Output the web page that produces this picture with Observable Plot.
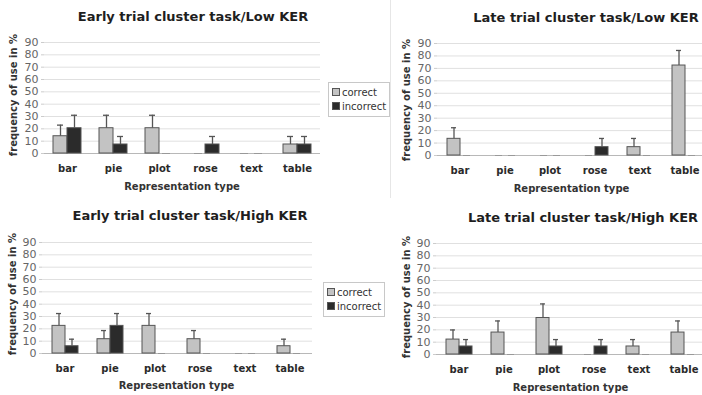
<!DOCTYPE html>
<html>
<head>
<meta charset="utf-8">
<script src="https://cdn.jsdelivr.net/npm/d3@7"></script>
<script src="https://cdn.jsdelivr.net/npm/@observablehq/plot@0.6"></script>
<style>
  html, body { margin: 0; padding: 0; background: #fff; }
  body { width: 702px; height: 395px; position: relative; overflow: hidden; font-family: "DejaVu Sans", sans-serif; }
  .abs { position: absolute; white-space: nowrap; }
  .title { font-weight: bold; font-size: 13px; color: #1e1e1e; transform: translate(-50%, -50%); }
  .xtitle { font-weight: bold; font-size: 10px; color: #333; transform: translate(-50%, -50%); }
  .ytitle { font-weight: bold; font-size: 10px; color: #333; transform: translate(-50%, -50%) rotate(-90deg); }
  .legend { border: 1px solid #c8c8c8; font-size: 10px; color: #333; padding: 3px 3px 2px 3px; line-height: 14px; background: #fff; }
  .sw { display: inline-block; width: 6px; height: 6px; border: 1px solid #555; margin-right: 2px; vertical-align: 0px; }
  .sep { position: absolute; width: 1px; background: #e6e6e6; }
</style>
</head>
<body>
<script>
const categories = ["bar", "pie", "plot", "rose", "text", "table"];
const series = ["correct", "incorrect"];
const yTicks = [0, 10, 20, 30, 40, 50, 60, 70, 80, 90];
const titles = [
  "Early trial cluster task/Low KER",
  "Late trial cluster task/Low KER",
  "Early trial cluster task/High KER",
  "Late trial cluster task/High KER"
];
const xTitle = "Representation type";
const yTitle = "frequency of use in %";

// Early / Low KER
const earlyLowCorrect      = [14.0, 20.5, 20.5, 0, 0, 7.3];
const earlyLowCorrectErr   = [9.0, 10.5, 10.5, 0, 0, 6.5];
const earlyLowIncorrect    = [20.5, 7.3, 0, 7.3, 0, 7.3];
const earlyLowIncorrectErr = [10.5, 6.5, 0, 6.5, 0, 6.5];
// Late / Low KER
const lateLowCorrect       = [13.4, 0, 0, 0, 6.7, 72.3];
const lateLowCorrectErr    = [8.9, 0, 0, 0, 7.0, 12.1];
const lateLowIncorrect     = [0, 0, 0, 6.7, 0, 0];
const lateLowIncorrectErr  = [0, 0, 0, 7.0, 0, 0];
// Early / High KER
const earlyHighCorrect      = [22.4, 11.6, 22.4, 11.6, 0, 5.9];
const earlyHighCorrectErr   = [10.0, 7.0, 10.0, 7.0, 0, 5.7];
const earlyHighIncorrect    = [5.9, 22.4, 0, 0, 0, 0];
const earlyHighIncorrectErr = [5.7, 10.0, 0, 0, 0, 0];
// Late / High KER
const lateHighCorrect       = [12.1, 17.8, 29.6, 0, 6.5, 17.8];
const lateHighCorrectErr    = [7.8, 9.4, 11.4, 0, 5.6, 9.4];
const lateHighIncorrect     = [6.5, 0, 6.5, 6.5, 0, 0];
const lateHighIncorrectErr  = [5.6, 0, 5.6, 5.6, 0, 0];

function rowsOf(c, ce, inc, ie) {
  return categories.flatMap((cat, i) => [
    {category: cat, series: "correct", value: c[i], err: ce[i]},
    {category: cat, series: "incorrect", value: inc[i], err: ie[i]}
  ]);
}

function addDiv(cls, text, x, y, extra) {
  const d = document.createElement("div");
  d.className = "abs " + cls;
  d.textContent = text;
  d.style.left = x + "px";
  d.style.top = y + "px";
  if (extra) Object.assign(d.style, extra);
  document.body.appendChild(d);
  return d;
}

function panel(cfg) {
  const rows = rowsOf(cfg.c, cfg.ce, cfg.i, cfg.ie);
  const withErr = rows.filter(d => d.value > 0 && d.err > 0);
  const zeros = rows.filter(d => d.value === 0);
  const chart = Plot.plot({
    width: cfg.width,
    height: cfg.height,
    marginLeft: cfg.marginLeft,
    marginRight: 0,
    marginTop: cfg.marginTop,
    marginBottom: cfg.marginBottom,
    style: {fontFamily: "DejaVu Sans", background: "transparent", overflow: "visible"},
    fx: {domain: categories, paddingInner: 0, paddingOuter: 0, label: null, axis: null},
    x: {domain: series, paddingInner: 0, paddingOuter: 0.62, axis: null},
    y: {domain: [0, 90], axis: null},
    color: {domain: series, range: ["#c3c3c3", "#2b2b2b"]},
    marks: [
      Plot.gridY(yTicks, {stroke: "#e0e0e0", strokeOpacity: 1}),
      Plot.axisY(yTicks, {tickSize: 3, tickPadding: 3, fontSize: 11, color: "#666", stroke: "#ccc", label: null}),
      Plot.axisFx({anchor: "bottom", tickSize: 0, tickPadding: 11, fontSize: 10, fontWeight: "bold", color: "#2a2a2a", label: null}),
      Plot.ruleY([0], {stroke: "#b8b8b8"}),
      Plot.barY(rows.filter(d => d.value > 0), {fx: "category", x: "series", y: "value", fill: "series", stroke: "#555", strokeWidth: 1}),
      Plot.tickY(zeros, {fx: "category", x: "series", y: "value", stroke: "#999", insetLeft: 3, insetRight: 3}),
      Plot.ruleX(withErr, {fx: "category", x: "series", y1: "value", y2: d => d.value + d.err, stroke: "#555", strokeWidth: 1.3}),
      Plot.tickY(withErr, {fx: "category", x: "series", y: d => d.value + d.err, stroke: "#555", strokeWidth: 1.3, insetLeft: 4, insetRight: 4})
    ]
  });
  chart.style.position = "absolute";
  chart.style.left = cfg.left + "px";
  chart.style.top = cfg.top + "px";
  document.body.appendChild(chart);
  addDiv("title", cfg.title, cfg.tx, cfg.ty);
  addDiv("xtitle", xTitle, cfg.left + cfg.marginLeft + (cfg.width - cfg.marginLeft) / 2, cfg.xy);
  addDiv("ytitle", yTitle, cfg.yx, cfg.yy);
}

function legend(x, y) {
  const d = document.createElement("div");
  d.className = "abs legend";
  d.style.left = x + "px";
  d.style.top = y + "px";
  const colors = ["#c3c3c3", "#2b2b2b"];
  series.forEach((s, k) => {
    const line = document.createElement("div");
    const sw = document.createElement("span");
    sw.className = "sw";
    sw.style.background = colors[k];
    line.appendChild(sw);
    line.appendChild(document.createTextNode(s));
    d.appendChild(line);
  });
  document.body.appendChild(d);
}

const sep = document.createElement("div");
sep.className = "sep";
sep.style.left = "390px"; sep.style.top = "0px"; sep.style.height = "198px";
document.body.appendChild(sep);

panel({title: titles[0], c: earlyLowCorrect, ce: earlyLowCorrectErr, i: earlyLowIncorrect, ie: earlyLowIncorrectErr,
  left: 0, top: 30, width: 321, height: 165, marginLeft: 43, marginTop: 12, marginBottom: 42,
  tx: 193, ty: 16, xy: 186, yx: 13, yy: 95});
panel({title: titles[1], c: lateLowCorrect, ce: lateLowCorrectErr, i: lateLowIncorrect, ie: lateLowIncorrectErr,
  left: 380, top: 30, width: 328, height: 165, marginLeft: 55, marginTop: 13, marginBottom: 40,
  tx: 586, ty: 17, xy: 188, yx: 406, yy: 100});
panel({title: titles[2], c: earlyHighCorrect, ce: earlyHighCorrectErr, i: earlyHighIncorrect, ie: earlyHighIncorrectErr,
  left: 0, top: 230, width: 313, height: 165, marginLeft: 40, marginTop: 12, marginBottom: 42,
  tx: 190, ty: 215, xy: 385, yx: 12, yy: 294});
panel({title: titles[3], c: lateHighCorrect, ce: lateHighCorrectErr, i: lateHighIncorrect, ie: lateHighIncorrectErr,
  left: 380, top: 230, width: 327, height: 165, marginLeft: 54, marginTop: 13, marginBottom: 41,
  tx: 583, ty: 217, xy: 387, yx: 406, yy: 297});

legend(328, 82);
legend(323, 282);
</script>
</body>
</html>
